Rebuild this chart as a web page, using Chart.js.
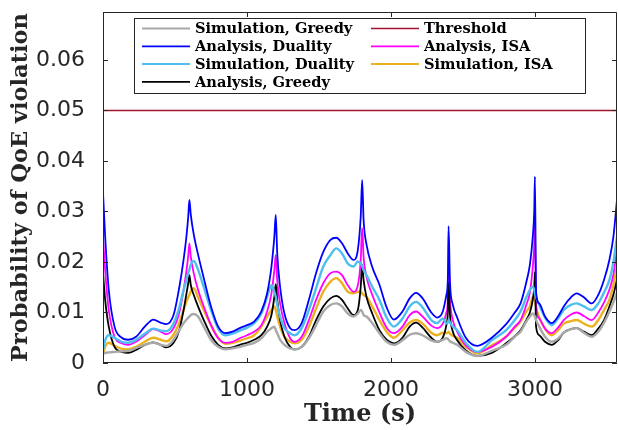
<!DOCTYPE html>
<html>
<head>
<meta charset="utf-8">
<title>Probability of QoE violation</title>
<script src="https://cdn.jsdelivr.net/npm/chart.js@4.4.1/dist/chart.umd.min.js"></script>
<style>
	html, body { margin:0; padding:0; background:#fff; }
	#wrap { position:relative; width:618px; height:430px; }
</style>
</head>
<body>
<div id="wrap"><canvas id="plot"></canvas></div>
<script>
// time axis (s), one row per 600 s period
times = [
	0,15,40,80,130,175,230,290,350,400,440,490,530,560,580,592,
	600,610,630,660,700,750,800,850,900,950,1000,1050,1100,1140,1170,1190,
	1200,1210,1230,1260,1300,1330,1380,1430,1480,1530,1580,1620,1660,1700,1740,1770,1790,
	1800,1810,1830,1870,1920,1970,2020,2080,2130,2175,2220,2280,2320,2360,2385,2395,
	2400,2410,2430,2460,2520,2600,2700,2800,2860,2900,2940,2965,2985,2995,
	3000,3008,3030,3070,3116,3160,3200,3250,3290,3340,3394,3440,3480,3517,3545,3570
];
simGreedy = [
	.0018,.0020,.0021,.0022,.0023,.0024,.0030,.0036,.0040,.0036,.0034,.0046,.0065,.0079,.0086,.0090,
	.0092,.0095,.0097,.0092,.0072,.0046,.0032,.0027,.0029,.0032,.0036,.0040,.0049,.0062,.0069,.0072,
	.0065,.0059,.0046,.0036,.0029,.0027,.0032,.0049,.0075,.0102,.0115,.0118,.0112,.0098,.0092,.0098,.0105,
	.0102,.0095,.0092,.0079,.0059,.0042,.0036,.0045,.0056,.0059,.0055,.0045,.0042,.0046,.0049,.0048,
	.0046,.0043,.0040,.0036,.0022,.0014,.0024,.0036,.0052,.0062,.0082,.0092,.0098,.0095,
	.0092,.0085,.0072,.0052,.0042,.0048,.0060,.0067,.0069,.0060,.0052,.0062,.0080,.0102,.0120,.0140
];
anDuality = [
	.0338,.0250,.0145,.0072,.0050,.0046,.0052,.0072,.0086,.0080,.0077,.0095,.0150,.0205,.0252,.0290,
	.0323,.0293,.0255,.0215,.0168,.0112,.0072,.0059,.0062,.0069,.0075,.0082,.0102,.0138,.0191,.0250,
	.0293,.0217,.0151,.0098,.0069,.0065,.0079,.0125,.0178,.0220,.0244,.0248,.0237,.0217,.0204,.0224,.0290,
	.0362,.0283,.0235,.0190,.0155,.0110,.0086,.0102,.0128,.0139,.0128,.0100,.0090,.0102,.0135,.0165,
	.0271,.0160,.0115,.0090,.0050,.0034,.0050,.0077,.0100,.0118,.0160,.0195,.0250,.0300,
	.0369,.0140,.0118,.0092,.0079,.0092,.0112,.0130,.0138,.0130,.0118,.0135,.0165,.0204,.0250,.0323
];
simDuality = [
	.0026,.0045,.0055,.0050,.0042,.0040,.0046,.0058,.0068,.0064,.0063,.0078,.0110,.0145,.0165,.0178,
	.0185,.0195,.0202,.0185,.0150,.0105,.0068,.0055,.0058,.0064,.0070,.0079,.0098,.0131,.0154,.0141,
	.0131,.0115,.0092,.0069,.0059,.0055,.0069,.0105,.0148,.0191,.0214,.0227,.0217,.0197,.0191,.0201,.0197,
	.0191,.0184,.0174,.0151,.0125,.0090,.0072,.0088,.0112,.0121,.0110,.0085,.0079,.0088,.0078,.0080,
	.0085,.0080,.0072,.0065,.0040,.0022,.0045,.0065,.0085,.0102,.0130,.0145,.0151,.0145,
	.0138,.0130,.0115,.0090,.0075,.0088,.0105,.0115,.0118,.0112,.0105,.0118,.0140,.0164,.0200,.0250
];
anGreedy = [
	.0178,.0125,.0072,.0032,.0022,.0020,.0026,.0036,.0041,.0036,.0031,.0040,.0065,.0105,.0138,.0158,
	.0174,.0154,.0135,.0112,.0085,.0055,.0036,.0029,.0031,.0036,.0040,.0046,.0055,.0072,.0095,.0131,
	.0156,.0125,.0085,.0052,.0032,.0027,.0032,.0052,.0085,.0112,.0128,.0133,.0125,.0108,.0095,.0105,.0151,
	.0194,.0164,.0131,.0098,.0065,.0046,.0039,.0050,.0072,.0080,.0070,.0050,.0042,.0050,.0075,.0100,
	.0158,.0095,.0062,.0045,.0025,.0014,.0020,.0039,.0053,.0065,.0085,.0100,.0125,.0150,
	.0180,.0072,.0055,.0042,.0036,.0045,.0060,.0067,.0069,.0062,.0055,.0068,.0085,.0112,.0135,.0165
];
thresholdTimes = [0, 3570];
threshold = [0.05, 0.05];
anISA = [
	.0250,.0184,.0105,.0052,.0039,.0036,.0042,.0055,.0067,.0062,.0057,.0069,.0100,.0145,.0184,.0212,
	.0237,.0210,.0178,.0145,.0112,.0075,.0049,.0040,.0042,.0049,.0055,.0062,.0075,.0102,.0138,.0184,
	.0214,.0164,.0118,.0079,.0049,.0042,.0052,.0085,.0125,.0158,.0178,.0181,.0174,.0154,.0141,.0154,.0204,
	.0267,.0210,.0171,.0135,.0100,.0070,.0059,.0072,.0095,.0102,.0092,.0074,.0069,.0078,.0100,.0125,
	.0200,.0125,.0085,.0062,.0035,.0022,.0032,.0052,.0072,.0085,.0115,.0140,.0190,.0230,
	.0270,.0112,.0088,.0068,.0059,.0070,.0085,.0096,.0100,.0093,.0085,.0100,.0120,.0145,.0175,.0225
];
simISA = [
	.0016,.0032,.0040,.0034,.0028,.0027,.0032,.0042,.0050,.0046,.0043,.0056,.0080,.0105,.0122,.0130,
	.0135,.0142,.0148,.0130,.0105,.0075,.0050,.0038,.0040,.0044,.0049,.0055,.0072,.0092,.0105,.0112,
	.0105,.0092,.0072,.0052,.0042,.0039,.0046,.0072,.0108,.0141,.0161,.0168,.0158,.0141,.0138,.0141,.0141,
	.0138,.0135,.0131,.0112,.0085,.0062,.0050,.0065,.0080,.0085,.0078,.0060,.0055,.0060,.0059,.0060,
	.0062,.0058,.0054,.0050,.0032,.0019,.0035,.0052,.0070,.0082,.0102,.0112,.0131,.0128,
	.0125,.0110,.0090,.0068,.0055,.0065,.0078,.0083,.0085,.0078,.0072,.0085,.0105,.0125,.0155,.0190
];

xTickValues = [0, 1000, 2000, 3000];
yTickValues = [0, 0.01, 0.02, 0.03, 0.04, 0.05, 0.06];
xMax = 3570;
yMax = 0.0695;

function pts(xs, ys){
	return xs.map((x,i)=>({x:x, y:ys[i]}));
}
function line(label, xs, ys, color, w){
	return {
		label: label,
		data: pts(xs, ys),
		borderColor: color,
		backgroundColor: color,
		borderWidth: w,
		pointRadius: 0,
		cubicInterpolationMode: 'monotone',
		fill: false
	};
}

// MATLAB style box with inward ticks on all four sides
const frame = {
	id: 'frame',
	afterDatasetsDraw(chart){
		const {ctx, chartArea: a, scales} = chart;
		ctx.save();
		ctx.strokeStyle = '#262626';
		ctx.lineWidth = 1;
		ctx.beginPath();
		ctx.rect(a.left + 0.5, a.top + 0.5, a.right - a.left - 1, a.bottom - a.top - 1);
		scales.x.ticks.forEach(t => {
			const px = Math.round(scales.x.getPixelForValue(t.value)) + 0.5;
			ctx.moveTo(px, a.bottom); ctx.lineTo(px, a.bottom - 5);
			ctx.moveTo(px, a.top); ctx.lineTo(px, a.top + 5);
		});
		scales.y.ticks.forEach(t => {
			const py = Math.round(scales.y.getPixelForValue(t.value)) + 0.5;
			ctx.moveTo(a.left, py); ctx.lineTo(a.left + 5, py);
			ctx.moveTo(a.right, py); ctx.lineTo(a.right - 5, py);
		});
		ctx.stroke();
		ctx.restore();
	}
};

// two column legend, filled column by column
const boxLegend = {
	id: 'boxLegend',
	afterDraw(chart){
		const ctx = chart.ctx;
		const a = chart.chartArea;
		const bx = a.left + 31, by = a.top + 6, bw = 451, bh = 75;
		const rows = 4, pitch = 17.8, colW = 229;
		ctx.save();
		ctx.fillStyle = '#fff';
		ctx.fillRect(bx, by, bw, bh);
		ctx.strokeStyle = '#262626';
		ctx.lineWidth = 1;
		ctx.strokeRect(bx + 0.5, by + 0.5, bw, bh);
		ctx.font = 'bold 14.6px "DejaVu Serif"';
		ctx.textBaseline = 'middle';
		ctx.fillStyle = '#000';
		chart.data.datasets.forEach((ds, i) => {
			const col = Math.floor(i / rows), row = i % rows;
			const x = bx + 8 + col * colW;
			const y = by + 10.5 + row * pitch;
			ctx.strokeStyle = ds.borderColor;
			ctx.lineWidth = Math.min(ds.borderWidth, 2);
			ctx.beginPath();
			ctx.moveTo(x, y); ctx.lineTo(x + 48, y);
			ctx.stroke();
			ctx.fillText(ds.label, x + 53, y + 1);
		});
		ctx.restore();
	}
};

const data = {
	datasets: [
		line('Simulation, Greedy', times, simGreedy, '#a8a8a8', 2.4),
		line('Analysis, Duality', times, anDuality, '#0000ff', 1.8),
		line('Simulation, Duality', times, simDuality, '#4dbeee', 2.4),
		line('Analysis, Greedy', times, anGreedy, '#000000', 1.8),
		line('Threshold', thresholdTimes, threshold, '#a2142f', 1.6),
		line('Analysis, ISA', times, anISA, '#ff00ff', 1.8),
		line('Simulation, ISA', times, simISA, '#edb120', 2.4)
	]
};

const config = {
	type: 'line',
	data: data,
	plugins: [frame, boxLegend],
	options: {
		responsive: true,
		maintainAspectRatio: false,
		animation: false,
		devicePixelRatio: 1,
		layout: { padding: { left: 0, right: 1, top: 12, bottom: 0 } },
		plugins: {
			legend: { display: false },
			tooltip: { enabled: false }
		},
		scales: {
			x: {
				type: 'linear',
				min: 0,
				max: xMax,
				grid: { display: false },
				border: { display: false },
				afterBuildTicks: s => { s.ticks = xTickValues.map(v => ({value: v})); },
				ticks: {
					autoSkip: false,
					maxRotation: 0,
					padding: 6,
					color: '#262626',
					font: { family: 'DejaVu Sans', size: 22 },
					callback: v => String(v)
				},
				title: {
					display: true,
					text: 'Time (s)',
					color: '#262626',
					font: { family: 'DejaVu Serif', weight: 'bold', size: 24 },
					padding: { top: 0, bottom: 1 }
				},
				afterFit: s => { s.height = 67; s.paddingLeft = 0; s.paddingRight = 0; }
			},
			y: {
				min: 0,
				max: yMax,
				grid: { display: false },
				border: { display: false },
				afterBuildTicks: s => { s.ticks = yTickValues.map(v => ({value: v})); },
				ticks: {
					padding: 10,
					color: '#262626',
					font: { family: 'DejaVu Sans', size: 22 },
					callback: v => v === 0 ? '0' : v.toFixed(2)
				},
				title: {
					display: true,
					text: 'Probability of QoE violation',
					color: '#262626',
					font: { family: 'DejaVu Serif', weight: 'bold', size: 22.5 },
					padding: { top: 8, bottom: 0 }
				},
				afterFit: s => { s.width = 103; s.paddingTop = 0; s.paddingBottom = 0; }
			}
		}
	}
};

plot = document.getElementById('plot');
const myChart = new Chart(plot, config);
</script>
</body>
</html>
